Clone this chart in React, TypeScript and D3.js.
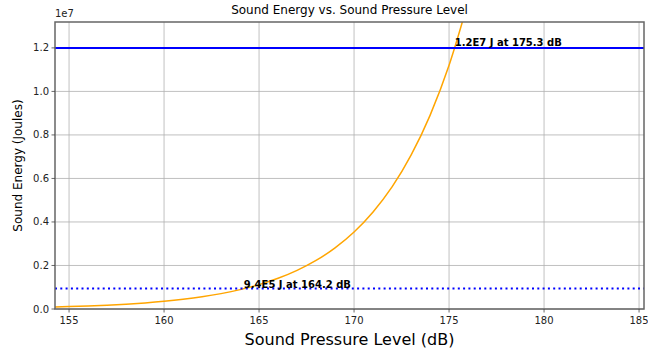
import React from "react";
import * as d3 from "d3";

// sound pressure level (dB) and the energy (J)
const levels = [154, 155, 156, 157, 158, 159, 160, 161, 162, 163, 164, 165, 166, 167, 168, 169, 170, 171, 172, 173, 174, 175, 176];
const energy = [
  8.9e4, 1.12e5, 1.41e5, 1.775e5, 2.23e5, 2.81e5, 3.54e5, 4.46e5, 5.61e5, 7.07e5, 8.9e5,
  1.12e6, 1.41e6, 1.775e6, 2.23e6, 2.81e6, 3.54e6, 4.46e6, 5.61e6, 7.07e6, 8.9e6, 1.12e7, 1.41e7,
];
const xTicks = [155, 160, 165, 170, 175, 180, 185];
const yTicks = [0, 0.2e7, 0.4e7, 0.6e7, 0.8e7, 1.0e7, 1.2e7];

// reference lines: [energy, dB, label]
const upperMark = { e: 1.2e7, db: 175.3, label: "1.2E7 J at 175.3 dB" };
const lowerMark = { e: 9.4e5, db: 164.2, label: "9.4E5 J at 164.2 dB" };

const W = 648;
const H = 349;
const m = { left: 55, right: 4, top: 22, bottom: 40 };

const App = () => {
  const x = d3.scaleLinear().domain([154.26, 185.26]).range([m.left, W - m.right]);
  const y = d3.scaleLinear().domain([0, 1.319e7]).range([H - m.bottom, m.top]);

  const pts = levels.map((d, i) => ({ d, e: energy[i] }));
  const line = d3
    .line<{ d: number; e: number }>()
    .x((p) => x(p.d))
    .y((p) => y(p.e))
    .curve(d3.curveMonotoneX);

  const font = "DejaVu Sans, sans-serif";
  const x0 = m.left, x1 = W - m.right, y0 = H - m.bottom, y1 = m.top;

  return (
    <svg width={W} height={H} style={{ position: "absolute", left: 0, top: 0, background: "#fff" }} fontFamily={font}>
      <defs>
        <clipPath id="plot">
          <rect x={x0} y={y1} width={x1 - x0} height={y0 - y1} />
        </clipPath>
      </defs>
      {/* grid */}
      {xTicks.map((t) => (
        <line key={"gx" + t} x1={x(t)} x2={x(t)} y1={y1} y2={y0} stroke="#b0b0b0" strokeWidth={0.8} />
      ))}
      {yTicks.map((t) => (
        <line key={"gy" + t} x1={x0} x2={x1} y1={y(t)} y2={y(t)} stroke="#b0b0b0" strokeWidth={0.8} />
      ))}
      <g clipPath="url(#plot)">
        <path d={line(pts) ?? ""} fill="none" stroke="orange" strokeWidth={1.5} />
        <line x1={x0} x2={x1} y1={y(upperMark.e)} y2={y(upperMark.e)} stroke="blue" strokeWidth={2} />
        <line x1={x0} x2={x1} y1={y(lowerMark.e)} y2={y(lowerMark.e)} stroke="blue" strokeWidth={2} strokeDasharray="2,3.3" />
      </g>
      <text x={x(upperMark.db)} y={y(upperMark.e) - 2} fontSize={10} fontWeight="bold">{upperMark.label}</text>
      <text x={x(lowerMark.db)} y={y(lowerMark.e) - 1} fontSize={10} fontWeight="bold">{lowerMark.label}</text>
      {/* frame */}
      <rect x={x0} y={y1} width={x1 - x0} height={y0 - y1} fill="none" stroke="#666" strokeWidth={1.5} />
      {/* ticks */}
      {xTicks.map((t) => (
        <g key={"tx" + t}>
          <line x1={x(t)} x2={x(t)} y1={y0} y2={y0 + 3.5} stroke="#444" strokeWidth={0.8} />
          <text x={x(t)} y={y0 + 15} fontSize={10} textAnchor="middle" fill="#222">{t}</text>
        </g>
      ))}
      {yTicks.map((t) => (
        <g key={"ty" + t}>
          <line x1={x0 - 3.5} x2={x0} y1={y(t)} y2={y(t)} stroke="#444" strokeWidth={0.8} />
          <text x={x0 - 6} y={y(t)} dy="0.35em" fontSize={10} textAnchor="end" fill="#222">{(t / 1e7).toFixed(1)}</text>
        </g>
      ))}
      <text x={x0} y={y1 - 5} fontSize={10} fill="#222">1e7</text>
      <text x={(x0 + x1) / 2} y={14} fontSize={12} textAnchor="middle">Sound Energy vs. Sound Pressure Level</text>
      <text x={(x0 + x1) / 2} y={H - 4} fontSize={16} textAnchor="middle">Sound Pressure Level (dB)</text>
      <text transform={`translate(22,${(y0 + y1) / 2}) rotate(-90)`} fontSize={12} textAnchor="middle">Sound Energy (Joules)</text>
    </svg>
  );
};

export default App;
